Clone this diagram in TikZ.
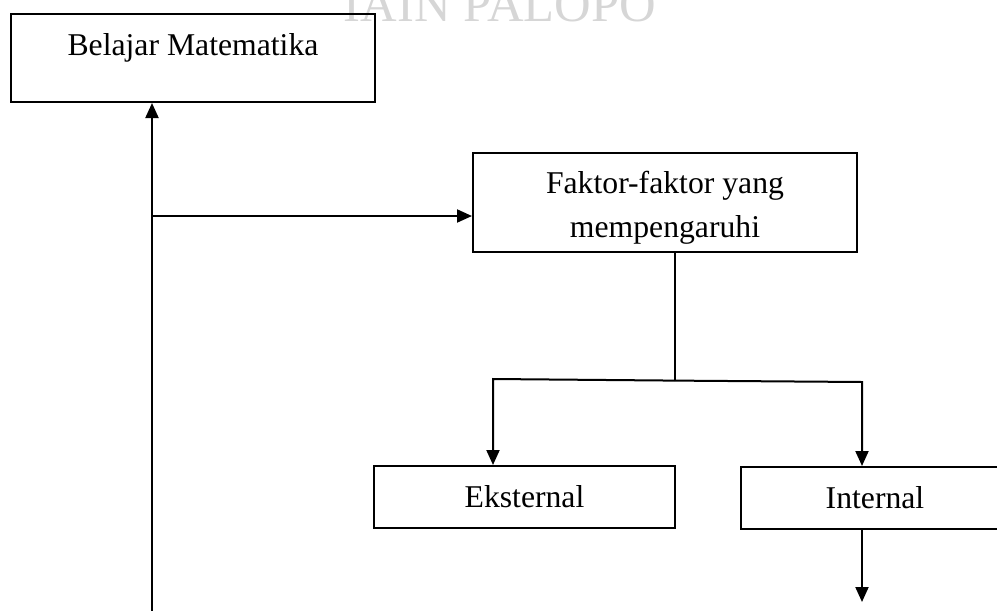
\documentclass[tikz,border=0pt]{standalone}
\usepackage{fontspec}
\setmainfont{Liberation Serif}
\usetikzlibrary{arrows.meta,calc}
\definecolor{wmgray}{HTML}{D6D6D6}
\begin{document}
\begin{tikzpicture}[x=1pt,y=-1pt,
  line width=2pt,
  box/.style={draw,rectangle,inner sep=0pt,line width=2pt},
  lbl/.style={inner sep=0pt,font=\fontsize{31.7}{38}\selectfont},
  wm/.style={inner sep=0pt,text=wmgray,font=\fontsize{50.7}{56}\selectfont},
  arr/.style={-{Triangle[length=15pt,width=13pt]}}]
\useasboundingbox (0,0) rectangle (997,611);
\clip (0,0) rectangle (997,611);
% watermark
\node[wm,anchor=base] (wmark) at (500,21) {IAIN PALOPO};
% boxes
\node[box,minimum width=364pt,minimum height=88pt] (b1) at (193,58) {};
\node[lbl,anchor=base] (t1) at (193,55) {Belajar Matematika};
\node[box,minimum width=384pt,minimum height=99pt] (b2) at (665,202.5) {};
\node[lbl,anchor=base] (t2a) at (665,193) {Faktor-faktor yang};
\node[lbl,anchor=base] (t2b) at (665,237) {mempengaruhi};
\node[box,lbl,minimum width=301pt,minimum height=62pt] (ext) at (524.5,497) {Eksternal};
\node[box,lbl,minimum width=268pt,minimum height=62pt] (int) at (875,498) {Internal};
% connectors
\coordinate (vb) at (152,620);
\coordinate (vj) at (152,216);
\draw[arr] (vb) -- (vb |- b1.south);
\draw[arr] (vj) -- (vj -| b2.west);
\coordinate (jm) at (675,380.6);
\coordinate (jl) at (493,379);
\coordinate (jr) at (862,382);
\draw (jm |- b2.south) -- (jm);
\draw[arr] (jm) -- (jl) -- (jl |- ext.north);
\draw[arr] (jm) -- (jr) -- (jr |- int.north);
\coordinate (out) at (862,602);
\draw[arr] (jr |- int.south) -- (out);
\end{tikzpicture}
\end{document}
